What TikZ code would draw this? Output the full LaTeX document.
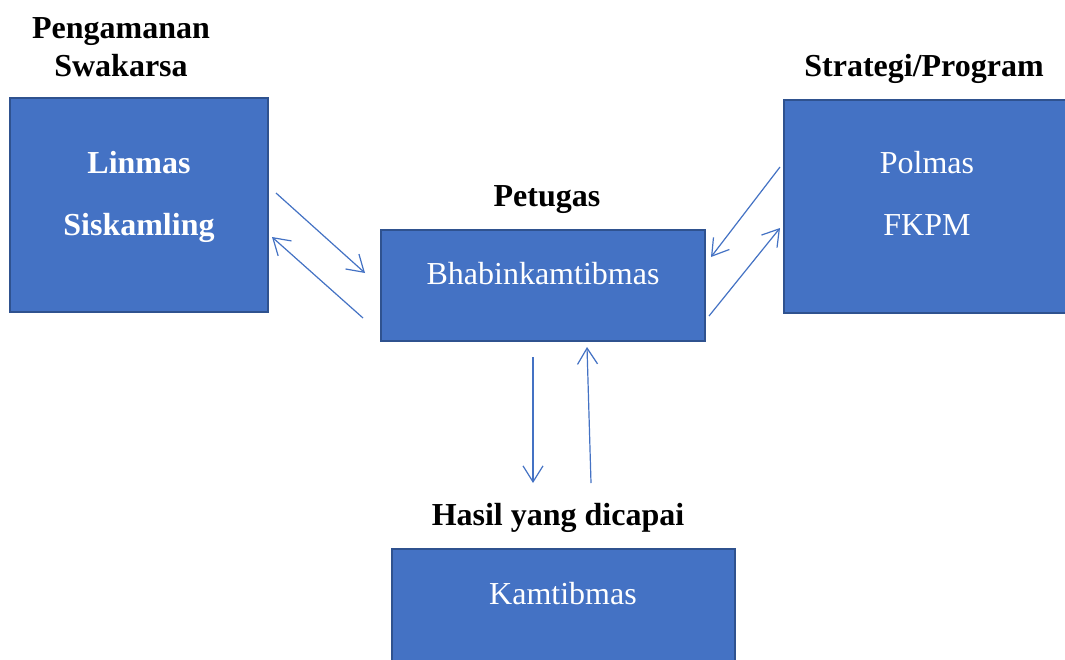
\documentclass[tikz,border=0pt]{standalone}
\usepackage{fontspec}
\setmainfont{Liberation Serif}
\usetikzlibrary{arrows.meta}
\definecolor{boxfill}{HTML}{4472C4}
\definecolor{boxline}{HTML}{2F528F}
\tikzset{
  box/.style={draw=boxline, line width=2.5pt, fill=boxfill},
  intext/.style={text=white, font=\fontsize{32}{38}\selectfont, anchor=base, inner sep=0pt},
  inbold/.style={intext, font=\fontsize{32}{38}\selectfont\bfseries},
  title/.style={text=black, font=\fontsize{32}{38}\selectfont\bfseries, anchor=base, inner sep=0pt},
  conn/.style={draw=boxfill, line width=1.2pt, -{Straight Barb[length=16pt,width=20pt,line width=1.2pt]}}
}
\begin{document}
\begin{tikzpicture}[x=1pt,y=-1pt]
\useasboundingbox (0,0) rectangle (1065,659);
\clip (0,0) rectangle (1065,659);
\fill[white] (0,0) rectangle (1065,659);
% boxes
\path[box] (10,98) rectangle (268,312);
\path[box] (784,100) rectangle (1090,313);
\path[box] (381,230) rectangle (705,341);
\path[box] (392,549) rectangle (735,690);
% titles
\node[title] (t1) at (121,38) {Pengamanan};
\node[title] (t2) at (121,76) {Swakarsa};
\node[title] (t3) at (924,76) {Strategi/Program};
\node[title] (t4) at (547,206) {Petugas};
\node[title] (t5) at (558,525) {Hasil yang dicapai};
% inner texts
\node[inbold] (linmas) at (139,173) {Linmas};
\node[inbold] (sisk) at (139,235) {Siskamling};
\node[intext] (polmas) at (927,173) {Polmas};
\node[intext] (fkpm) at (927,235) {FKPM};
\node[intext] (bhab) at (543,284) {Bhabinkamtibmas};
\node[intext] (kamt) at (563,604) {Kamtibmas};
% arrow end points
\coordinate (a1s) at (276,193); \coordinate (a1e) at (365,273);
\coordinate (a2s) at (363,318); \coordinate (a2e) at (272,237);
\coordinate (a3s) at (780,167); \coordinate (a3e) at (711,257);
\coordinate (a4s) at (709,316); \coordinate (a4e) at (780,228);
\coordinate (a5s) at (533,357); \coordinate (a5e) at (533,483);
\coordinate (a6s) at (591,483); \coordinate (a6e) at (587,347);
\draw[conn] (a1s) -- (a1e);
\draw[conn] (a2s) -- (a2e);
\draw[conn] (a3s) -- (a3e);
\draw[conn] (a4s) -- (a4e);
\draw[conn] (a5s) -- (a5e);
\draw[conn] (a6s) -- (a6e);
\end{tikzpicture}
\end{document}
